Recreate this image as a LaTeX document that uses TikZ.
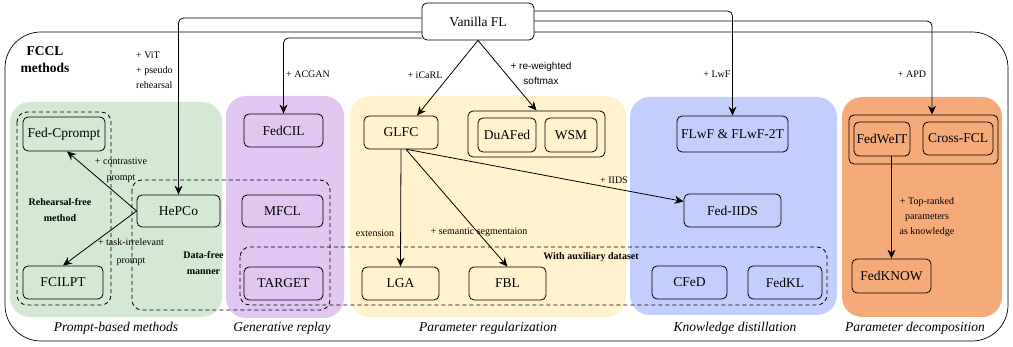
\documentclass[tikz,border=0pt]{standalone}
\usepackage{fontspec}
\setmainfont{Liberation Serif}
\setsansfont{Liberation Sans}
\usetikzlibrary{arrows.meta,positioning}

\definecolor{promptbg}{HTML}{D5E8D4}
\definecolor{genbg}{HTML}{E0C6F0}
\definecolor{regbg}{HTML}{FFF2CC}
\definecolor{kdbg}{HTML}{C4CEFC}
\definecolor{decbg}{HTML}{F5AA7A}

\tikzset{
  method/.style={draw, rounded corners=5pt, line width=0.8pt, inner sep=0pt,
    minimum height=33pt, font=\fontsize{13.5}{16}\selectfont},
  note/.style={font=\fontsize{10}{15}\selectfont, align=center, inner sep=1pt},
  tag/.style={font=\bfseries\fontsize{13.5}{17}\selectfont, align=center, inner sep=1pt},
  subtag/.style={font=\bfseries\fontsize{10}{16}\selectfont, align=center, inner sep=1pt},
  area/.style={font=\itshape\fontsize{13.5}{16}\selectfont, inner sep=1pt},
  dashbox/.style={line width=0.8pt, dash pattern=on 4pt off 3pt, rounded corners=10pt},
  flow/.style={-{Stealth[length=9pt,width=8pt]}, line width=0.8pt}
}

\begin{document}
\begin{tikzpicture}[x=1pt,y=-1pt]
\useasboundingbox (0,0) rectangle (1013,347);
% coloured method families
\fill[promptbg, rounded corners=20pt] (10,102) rectangle (222,317);
\fill[genbg, rounded corners=20pt] (226,96) rectangle (344,318);
\fill[regbg, rounded corners=20pt] (350,96) rectangle (626,317);
\fill[kdbg, rounded corners=20pt] (630,97) rectangle (837,315);
\fill[decbg, rounded corners=20pt] (842,97) rectangle (1002,317);
% outer frame
\draw[line width=0.7pt, rounded corners=36pt] (5,32) rectangle (1008,341);
\node[tag] (fccl) at (45,59.5) {FCCL\\methods};
% dashed groupings
\draw[dashbox] (17,112) rectangle (111,305);
\draw[dashbox] (132,180) rectangle (330,310);
\draw[dashbox] (240,247) rectangle (827,305);
\node[subtag] (rfnote) at (60,210) {Rehearsal-free\\method};
\node[subtag] (dfnote) at (203.5,263) {Data-free\\manner};
\node[subtag] (auxnote) at (591,257) {With auxiliary dataset};
% root
\node[method, minimum width=112pt, minimum height=37pt, fill=white] (vfl) at (478,21.5) {Vanilla FL};
% prompt-based
\node[method, minimum width=82pt, minimum height=34pt] (fedcprompt) at (64,134) {Fed-Cprompt};
\node[method, minimum width=80pt] (fcilpt) at (63,282.5) {FCILPT};
\node[method, minimum width=83pt, minimum height=32pt] (hepco) at (178.5,211) {HePCo};
% generative replay
\node[method, minimum width=79pt] (fedcil) at (283.5,130.5) {FedCIL};
\node[method, minimum width=81pt, minimum height=32pt] (mfcl) at (282.5,211) {MFCL};
\node[method, minimum width=79pt] (target) at (283.5,283.5) {TARGET};
% parameter regularization
\node[method, minimum width=74pt] (glfc) at (401,132.5) {GLFC};
\node[method, minimum width=137pt, minimum height=46pt] (regroup) at (536.5,134) {};
\node[method, minimum width=58pt, minimum height=34pt] (duafed) at (507,135) {DuAFed};
\node[method, minimum width=52pt, minimum height=34pt] (wsm) at (571,135) {WSM};
\node[method, minimum width=77pt] (lga) at (400.5,283.5) {LGA};
\node[method, minimum width=77pt] (fbl) at (507.5,283.5) {FBL};
% knowledge distillation
\node[method, minimum width=111pt, minimum height=36pt] (flwf) at (732.5,134) {FLwF \& FLwF-2T};
\node[method, minimum width=97pt] (fediids) at (732.5,210.5) {Fed-IIDS};
\node[method, minimum width=75pt] (cfed) at (689.5,282.5) {CFeD};
\node[method, minimum width=74pt] (fedkl) at (785,282.5) {FedKL};
% parameter decomposition
\node[method, minimum width=149pt, minimum height=49pt] (pdgroup) at (923.5,139.5) {};
\node[method, minimum width=56pt, minimum height=34pt] (fedweit) at (882,139) {FedWeIT};
\node[method, minimum width=70pt] (crossfcl) at (958,138.5) {Cross-FCL};
\node[method, minimum width=79pt, minimum height=34pt] (fedknow) at (891.5,276) {FedKNOW};
% connectors
\draw[flow, rounded corners=5pt] ([yshift=3.5pt]vfl.west) -| (hepco.north);
\draw[flow, rounded corners=5pt] ([yshift=-16.5pt]vfl.west) -| (fedcil.north);
\draw[flow, rounded corners=5pt] ([yshift=10.5pt]vfl.east) -| (flwf.north);
\draw[flow, rounded corners=5pt] ([yshift=0.5pt]vfl.east) -| ([xshift=8.5pt]pdgroup.north);
\draw[flow] (vfl.south) -- ([xshift=16pt]glfc.north);
\draw[flow] (vfl.south) -- (regroup.north);
\draw[flow] (hepco.west) -- ([xshift=3pt]fedcprompt.south);
\draw[flow] (hepco.west) -- (fcilpt.north);
\draw[flow] (glfc.south) -- (lga.north);
\draw[flow] ([xshift=5pt]glfc.south) -- (fbl.north);
\draw[flow] ([xshift=6pt]glfc.south) -- ([yshift=9pt]fediids.west);
\draw[flow] (fedknow.north |- fedweit.south) -- (fedknow.north);
% edge notes
\node[note, align=left, anchor=west] (vitnote) at (135,70) {+ ViT\\+ pseudo\\rehearsal};
\node[note] (acgannote) at (308,74) {+ ACGAN};
\node[note] (icarlnote) at (425,75) {+ iCaRL};
\node[note, font=\sffamily\fontsize{10}{15}\selectfont] (softmaxnote) at (541,73) {+ re-weighted\\softmax};
\node[note] (lwfnote) at (717,74) {+ LwF};
\node[note] (apdnote) at (912,74) {+ APD};
\node[note, font=\fontsize{10}{16}\selectfont] (contrastnote) at (121,170) {+ contrastive\\prompt};
\node[note, font=\fontsize{10}{18}\selectfont] (irrelnote) at (131,252) {+ task-irrelevant\\prompt};
\node[note] (extnote) at (375,233) {extension};
\node[note] (segnote) at (479,232) {+ semantic segmentaion};
\node[note] (iidsnote) at (614,180) {+ IIDS};
\node[note] (topnote) at (927,217) {+ Top-ranked\\parameters\\as knowledge};
% family names
\node[area] (promptname) at (116,328) {Prompt-based methods};
\node[area] (genname) at (282,328) {Generative replay};
\node[area] (regname) at (488,328) {Parameter regularization};
\node[area] (kdname) at (735,328) {Knowledge distillation};
\node[area] (decname) at (915,328) {Parameter decomposition};
\end{tikzpicture}
\end{document}
